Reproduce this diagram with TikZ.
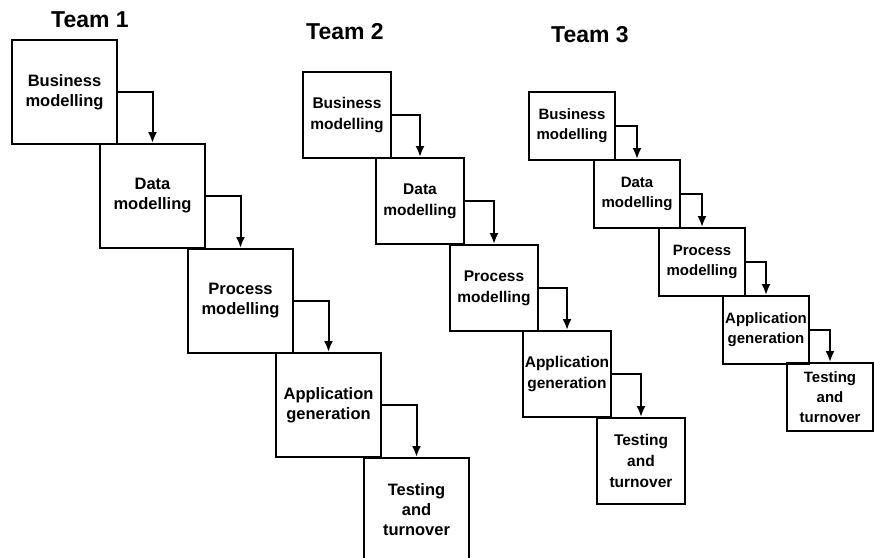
\documentclass[tikz,border=0pt]{standalone}
\usepackage{fontspec}
\setmainfont{Liberation Sans}
\usetikzlibrary{arrows.meta}

\begin{document}
\begin{tikzpicture}[x=1pt,y=-1pt,
    team/.style={font=\bfseries\fontsize{23}{28}\selectfont},
    box/.style={draw,line width=2pt,inner sep=0pt,align=center},
    boxa/.style={box,minimum width=105pt,minimum height=104pt,font=\bfseries\fontsize{16.5}{20}\selectfont},
    boxb/.style={box,minimum width=88pt,minimum height=86pt,font=\bfseries\fontsize{15.5}{21}\selectfont},
    boxc/.style={box,minimum width=86pt,minimum height=68pt,font=\bfseries\fontsize{15}{20}\selectfont},
    flow/.style={-{Latex[length=11pt,width=9pt]},line width=2pt}]
        \clip (0,0) rectangle (874,557);
        % headers
        \node[team](h1)at(90,20){Team 1};
        \node[team](h2)at(345,32){Team 2};
        \node[team](h3)at(590,35){Team 3};
        % team 1
        \node[boxa](b1)at(64.5,92){Business\\modelling};
        \node[boxa](d1)at(152.5,196){Data\\modelling};
        \node[boxa](p1)at(240.5,301){Process\\modelling};
        \node[boxa](a1)at(328.5,405){Application\\generation};
        \node[boxa](t1)at(416.5,510){Testing\\and\\turnover};
        \draw[flow](b1.east)-|(d1.north);
        \draw[flow](d1.east)-|(p1.north);
        \draw[flow](p1.east)-|(a1.north);
        \draw[flow](a1.east)-|(t1.north);
        % team 2
        \node[boxb](b2)at(347,115){Business\\modelling};
        \node[boxb](d2)at(420,201){Data\\modelling};
        \node[boxb](p2)at(494,288){Process\\modelling};
        \node[boxb](a2)at(567,374){Application\\generation};
        \node[boxb](t2)at(641,461){Testing\\and\\turnover};
        \draw[flow](b2.east)-|(d2.north);
        \draw[flow](d2.east)-|(p2.north);
        \draw[flow](p2.east)-|(a2.north);
        \draw[flow](a2.east)-|(t2.north);
        % team 3
        \node[boxc](b3)at(572,126){Business\\modelling};
        \node[boxc](d3)at(637,194){Data\\modelling};
        \node[boxc](p3)at(702,262){Process\\modelling};
        \node[boxc](a3)at(766,330){Application\\generation};
        \node[boxc](t3)at(830,397){Testing\\and\\turnover};
        \draw[flow](b3.east)-|(d3.north);
        \draw[flow](d3.east)-|(p3.north);
        \draw[flow](p3.east)-|(a3.north);
        \draw[flow](a3.east)-|(t3.north);
\end{tikzpicture}
\end{document}
